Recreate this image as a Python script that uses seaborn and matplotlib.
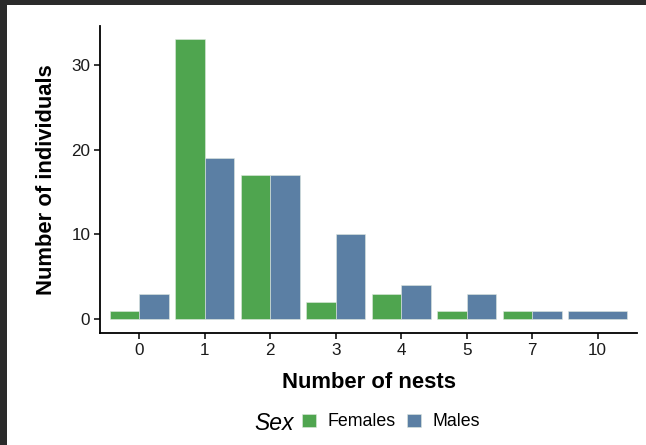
import matplotlib
matplotlib.use("Agg")
import matplotlib.pyplot as plt
from matplotlib.patches import Rectangle
import pandas as pd
import seaborn as sns

# Nest counts per individual, split by sex
nest_categories = ["0", "1", "2", "3", "4", "5", "7", "10"]
female_counts = [1, 33, 17, 2, 3, 1, 1, None]
male_counts = [3, 19, 17, 10, 4, 3, 1, 1]
sex_levels = ["Females", "Males"]
sex_colors = ["#4fa54f", "#5b7fa4"]

rows = []
for cat, f, m in zip(nest_categories, female_counts, male_counts):
    if f is not None:
        rows.append({"nests": cat, "sex": "Females", "count": f})
    if m is not None:
        rows.append({"nests": cat, "sex": "Males", "count": m})
df = pd.DataFrame(rows)

sns.set_theme(style="ticks")
plt.rcParams["font.family"] = ["Liberation Sans", "DejaVu Sans"]
plt.rcParams["text.color"] = "black"
plt.rcParams["axes.labelcolor"] = "black"

W, H = 646, 445
fig = plt.figure(figsize=(W / 100, H / 100), dpi=100)
fig.patch.set_facecolor("#2b2b2b")
fig.patches.append(Rectangle((7 / W, 0), 1 - 7 / W, (H - 5) / H,
                             transform=fig.transFigure, facecolor="white",
                             edgecolor="none", zorder=-10))

ax = fig.add_axes([100 / W, (H - 333) / H, (637 - 100) / W, (333 - 25.5) / H])
ax.set_zorder(1)
sns.barplot(data=df, x="nests", y="count", hue="sex", order=nest_categories,
            hue_order=sex_levels, palette=sex_colors, saturation=1,
            width=0.9, dodge=True, errorbar=None, ax=ax,
            edgecolor="#dfe9df", linewidth=0.4)

# Categories where only one sex is present take the full slot width
present = df.groupby("nests")["sex"].nunique()
for container, level in zip(ax.containers, sex_levels):
    sub = df[df["sex"] == level]
    for bar, cat in zip(container, sub["nests"]):
        if present[cat] == 1:
            pos = nest_categories.index(cat)
            bar.set_x(pos - 0.45)
            bar.set_width(0.9)

ax.set_xlim(-0.6, len(nest_categories) - 1 + 0.6)
ax.set_ylim(-1.65, 34.65)
ax.set_yticks([0, 10, 20, 30])
ax.set_facecolor("white")
sns.despine(ax=ax)
for s in ("left", "bottom"):
    ax.spines[s].set_color("black")
    ax.spines[s].set_linewidth(1.3)
ax.tick_params(axis="both", length=4, width=1.1, color="black",
               labelsize=12.3, labelcolor="#1a1a1a", pad=3)

ax.set_xlabel("Number of nests", fontsize=15.8, fontweight="bold", color="black")
ax.set_ylabel("Number of individuals", fontsize=15.8, fontweight="bold", color="black")
ax.xaxis.set_label_coords(0.5, (333 - 382) / (333 - 25.5), transform=ax.transAxes)
ax.xaxis.label.set_va("center")
ax.yaxis.set_label_coords((47 - 100) / (637 - 100), 0.5, transform=ax.transAxes)
ax.yaxis.label.set_va("center")

sns.move_legend(ax, "center", bbox_to_anchor=(391 / W, (H - 422) / H),
                bbox_transform=fig.transFigure, ncol=2, title=None,
                frameon=False, fontsize=12.8, handlelength=0.8,
                handleheight=0.8, handletextpad=0.65, columnspacing=0.65)
for t in ax.get_legend().get_texts():
    t.set_color("black")
fig.text(274.5 / W, (H - 423) / H, "Sex", fontsize=16.5, fontstyle="italic",
         ha="center", va="center", zorder=2, color="black")

fig.savefig("out.png", dpi=100, facecolor=fig.get_facecolor())
